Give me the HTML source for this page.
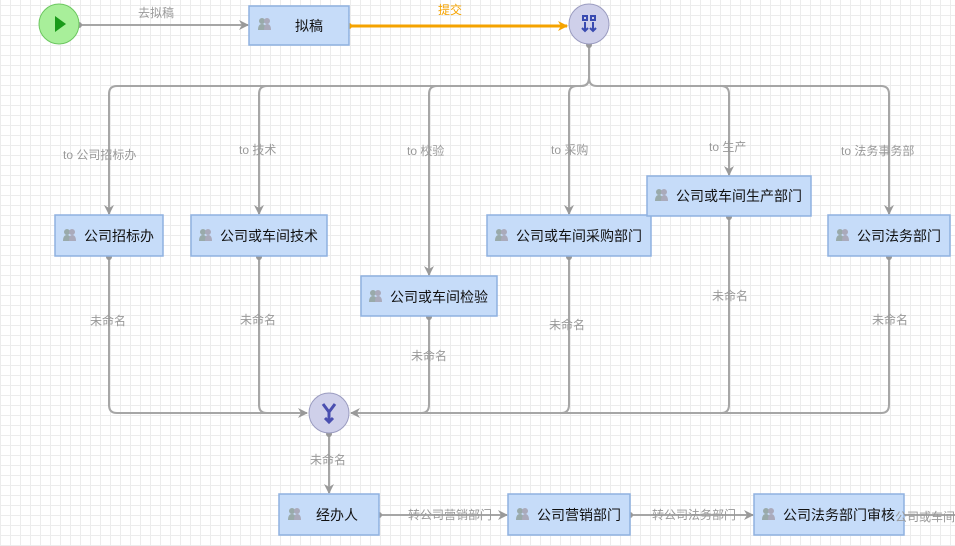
<!DOCTYPE html>
<html><head><meta charset="utf-8"><style>
html,body{margin:0;padding:0;}
body{width:955px;height:546px;overflow:hidden;background-color:#fff;
background-image:repeating-linear-gradient(0deg,#ececec 0,#ececec 1px,transparent 1px,transparent 10px),repeating-linear-gradient(90deg,#ececec 0,#ececec 1px,transparent 1px,transparent 10px);}
svg{position:absolute;left:0;top:0;}
text{font-family:"Liberation Sans","Noto Sans CJK SC",sans-serif;}
.lbl{font-size:12px;fill:#999;}
.bt{font-size:14px;fill:#111;}
</style></head><body>
<svg width="955" height="546" viewBox="0 0 955 546">
<defs>
<marker id="ag" markerWidth="10" markerHeight="10" refX="9" refY="5" orient="auto" markerUnits="userSpaceOnUse"><path d="M0,0 L10,5 L0,10 L3,5z" fill="#999"/></marker>
<marker id="ao" markerWidth="10" markerHeight="10" refX="9" refY="5" orient="auto" markerUnits="userSpaceOnUse"><path d="M0,0 L10,5 L0,10 L3,5z" fill="#f5a300"/></marker>
<g id="ic"><circle cx="4" cy="-4" r="3" fill="#9aa"/><path d="M0,5 q0,-6 4,-6 q4,0 4,6z" fill="#9aa"/><circle cx="9" cy="-4" r="3" fill="#aab"/><path d="M6,5 q0,-6 3,-6 q4,0 4,6z" fill="#aab"/></g>
</defs>
<g fill="none" stroke="#a6a6a6" stroke-width="2">
<line x1="79" y1="25" x2="248" y2="25" marker-end="url(#ag)"/>
<path d="M589,45 V78 q0,8 -8,8 H117 q-8,0 -8,8 V214" marker-end="url(#ag)"/>
<path d="M267,86 q-8,0 -8,8 V214" marker-end="url(#ag)"/>
<path d="M437,86 q-8,0 -8,8 V275" marker-end="url(#ag)"/>
<path d="M589,78 q0,8 -8,8 H577 q-8,0 -8,8 V214" marker-end="url(#ag)"/>
<path d="M589,78 q0,8 8,8 H721 q8,0 8,8 V175" marker-end="url(#ag)"/>
<path d="M721,86 H881 q8,0 8,8 V214" marker-end="url(#ag)"/>
<path d="M109,257 V405 q0,8 8,8 H307" marker-end="url(#ag)"/>
<path d="M259,257 V405 q0,8 8,8"/>
<path d="M429,317 V405 q0,8 -8,8"/>
<path d="M569,257 V405 q0,8 -8,8"/>
<path d="M729,217 V405 q0,8 -8,8"/>
<path d="M889,257 V405 q0,8 -8,8 H351" marker-end="url(#ag)"/>
<line x1="329" y1="434" x2="329" y2="493" marker-end="url(#ag)"/>
<line x1="379" y1="515" x2="507" y2="515" marker-end="url(#ag)"/>
<line x1="630" y1="515" x2="753" y2="515" marker-end="url(#ag)"/>
<line x1="904" y1="515" x2="955" y2="515"/>
</g>
<line x1="349" y1="26" x2="567" y2="26" stroke="#f5a300" stroke-width="3" marker-end="url(#ao)"/>
<circle cx="349" cy="26" r="3" fill="#f5a300"/>
<g fill="#999"><circle cx="79" cy="25" r="3"/><circle cx="589" cy="45" r="3"/><circle cx="109" cy="257" r="3"/><circle cx="259" cy="257" r="3"/><circle cx="429" cy="317" r="3"/><circle cx="569" cy="257" r="3"/><circle cx="729" cy="217" r="3"/><circle cx="889" cy="257" r="3"/><circle cx="329" cy="434" r="3"/><circle cx="379" cy="515" r="3"/><circle cx="630" cy="515" r="3"/></g>
<circle cx="59" cy="24" r="20" fill="#a8ef9a" stroke="#6cc760" stroke-width="1"/>
<path d="M55,16 L66,24 L55,32z" fill="#1a9a1a"/>
<circle cx="589" cy="24" r="20" fill="#cfd0ea" stroke="#9b9cc0"/>
<g fill="none" stroke="#3a4bb0" stroke-width="2"><rect x="583" y="16" width="4" height="4"/><rect x="591" y="16" width="4" height="4"/><path d="M585,22 V30 M582,28 l3,3 3,-3 M593,22 V30 M590,28 l3,3 3,-3"/></g>
<circle cx="329" cy="413" r="20" fill="#cfd0ea" stroke="#9b9cc0"/>
<path d="M323,404 L329,412 L335,404 M329,412 V422 M325,418 l4,4 4,-4" fill="none" stroke="#4a4fb0" stroke-width="3"/>
<g fill="#c6dcf9" stroke="#8fb1e0" stroke-width="1.5">
<rect x="249" y="6" width="100" height="39"/>
<rect x="55" y="215" width="108" height="41"/>
<rect x="191" y="215" width="136" height="41"/>
<rect x="361" y="276" width="136" height="40"/>
<rect x="487" y="215" width="164" height="41"/>
<rect x="647" y="176" width="164" height="40"/>
<rect x="828" y="215" width="122" height="41"/>
<rect x="279" y="494" width="100" height="41"/>
<rect x="508" y="494" width="122" height="41"/>
<rect x="754" y="494" width="150" height="41"/>
</g>
<use href="#ic" x="258" y="25"/><use href="#ic" x="63" y="236"/><use href="#ic" x="199" y="236"/><use href="#ic" x="369" y="297"/><use href="#ic" x="495" y="236"/><use href="#ic" x="655" y="196"/><use href="#ic" x="836" y="236"/><use href="#ic" x="288" y="515"/><use href="#ic" x="516" y="515"/><use href="#ic" x="762" y="515"/>
<g class="bt">
<text x="295" y="31">拟稿</text>
<text x="84" y="241">公司招标办</text>
<text x="220" y="241">公司或车间技术</text>
<text x="390" y="302">公司或车间检验</text>
<text x="516" y="241">公司或车间采购部门</text>
<text x="676" y="201">公司或车间生产部门</text>
<text x="857" y="241">公司法务部门</text>
<text x="316" y="520">经办人</text>
<text x="537" y="520">公司营销部门</text>
<text x="783" y="520">公司法务部门审核</text>
</g>
<g class="lbl">
<text x="138" y="17">去拟稿</text>
<text x="438" y="14" style="fill:#f5a300">提交</text>
<text x="63" y="159">to 公司招标办</text>
<text x="239" y="154">to 技术</text>
<text x="407" y="155">to 校验</text>
<text x="551" y="154">to 采购</text>
<text x="709" y="151">to 生产</text>
<text x="841" y="155">to 法务事务部</text>
<text x="90" y="325">未命名</text>
<text x="240" y="324">未命名</text>
<text x="411" y="360">未命名</text>
<text x="549" y="329">未命名</text>
<text x="712" y="300">未命名</text>
<text x="872" y="324">未命名</text>
<text x="310" y="464">未命名</text>
<text x="408" y="519">转公司营销部门</text>
<text x="652" y="519">转公司法务部门</text>
<text x="895" y="521">公司或车间</text>
</g>
</svg>
</body></html>
